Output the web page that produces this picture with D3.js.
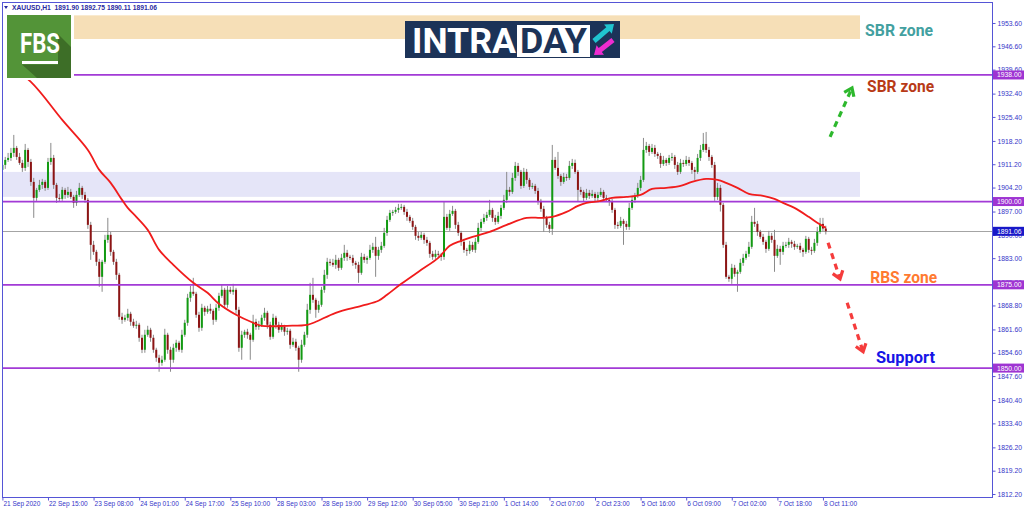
<!DOCTYPE html>
<html><head><meta charset="utf-8">
<script src="https://cdn.jsdelivr.net/npm/d3@7"></script>
<style>body{margin:0;background:#fff}svg{display:block}</style>
</head><body>
<svg id="c" width="1024" height="511"></svg>
<script>
// ---------------- DATA ----------------
const symbolInfo = "XAUUSD,H1  1891.90 1892.75 1890.11 1891.06";
const firstOpen = 1909.5;
const closes = [
1911.0,1912.5,1913.1,1914.6,1916.1,1913.4,1911.6,1910.1,1915.5,1911.9,
1905.9,1901.1,1903.5,1905.0,1905.9,1904.1,1911.9,1913.1,1905.0,1901.1,
1900.8,1903.5,1902.0,1902.9,1901.4,1899.6,1902.0,1904.1,1902.0,1900.5,
1893.0,1887.0,1884.9,1881.9,1877.4,1881.9,1888.5,1890.0,1884.9,1881.9,
1878.0,1865.4,1864.5,1865.1,1866.3,1863.9,1862.7,1863.0,1859.1,1855.5,
1860.0,1861.5,1859.1,1855.5,1853.1,1851.6,1852.5,1860.0,1855.5,1852.5,
1856.1,1857.6,1855.5,1860.0,1863.6,1871.1,1872.9,1872.3,1866.0,1862.1,
1868.1,1866.9,1867.8,1867.2,1864.5,1868.1,1871.7,1873.5,1869.0,1873.5,
1872.9,1873.5,1867.5,1856.1,1860.0,1860.9,1860.0,1858.5,1863.9,1862.4,
1863.0,1865.1,1866.6,1863.0,1859.4,1865.1,1863.0,1861.5,1862.4,1860.9,
1861.2,1857.0,1857.9,1856.1,1852.5,1857.0,1860.0,1867.5,1872.0,1870.5,
1867.5,1869.0,1873.5,1878.0,1881.9,1881.6,1881.0,1882.5,1880.1,1883.1,
1884.6,1883.4,1883.1,1881.6,1881.0,1878.6,1883.4,1882.5,1883.1,1885.5,
1886.4,1883.7,1885.5,1886.7,1890.6,1894.5,1896.6,1896.9,1897.5,1898.1,
1898.4,1896.9,1895.4,1894.2,1892.4,1889.7,1889.1,1890.0,1888.5,1887.6,
1884.3,1883.4,1884.3,1884.0,1883.4,1895.4,1892.1,1896.3,1897.2,1893.0,
1890.6,1887.9,1885.5,1885.2,1887.0,1885.5,1887.9,1892.1,1893.9,1895.1,
1896.0,1897.5,1895.1,1893.9,1895.7,1898.1,1900.5,1903.5,1902.9,1907.1,
1910.7,1908.9,1904.7,1908.9,1906.5,1904.4,1904.7,1903.2,1900.2,1897.8,
1895.1,1893.0,1891.8,1912.5,1910.1,1907.7,1905.9,1907.4,1907.1,1910.7,
1911.6,1908.9,1903.5,1902.9,1901.1,1902.6,1901.7,1902.3,1901.1,1902.0,
1902.9,1901.1,1900.5,1899.9,1897.5,1893.0,1892.7,1894.2,1893.3,1892.4,
1898.1,1900.5,1901.7,1904.1,1906.5,1915.5,1916.7,1914.9,1916.1,1914.3,
1913.7,1911.3,1912.5,1911.6,1913.1,1913.4,1911.0,1908.9,1911.6,1911.3,
1912.5,1911.6,1909.5,1908.9,1913.1,1915.5,1917.3,1915.5,1913.4,1911.0,
1901.4,1904.1,1899.0,1887.0,1877.4,1876.8,1880.1,1878.3,1878.9,1881.6,
1883.1,1884.3,1886.4,1893.9,1893.3,1890.9,1889.4,1887.9,1885.8,1889.7,
1888.5,1883.7,1885.8,1884.9,1886.7,1887.0,1887.9,1887.3,1886.4,1886.7,
1885.5,1884.9,1888.8,1885.5,1885.2,1887.6,1890.9,1893.3,1891.9,1891.06
];
const wickUp = [
1.2,0.9,1.5,1.5,3.9,0.6,1.2,0.9,1.8,0.6, 0.9,1.2,0.6,1.5,0.9,0.6,1.2,4.5,0.9,0.6,
1.2,0.9,0.6,1.5,0.9,0.6,1.2,1.5,0.6,0.9, 0.6,0.9,1.2,0.6,0.9,0.6,1.5,5.1,0.9,0.6,
0.9,0.6,1.2,0.9,1.5,0.6,0.9,1.2,0.6,0.9, 1.5,1.2,0.6,0.9,0.6,0.9,1.2,1.8,0.6,0.9,
1.2,0.9,0.6,1.5,0.9,1.2,1.8,4.2,0.6,0.9, 1.2,0.6,0.9,1.5,0.6,1.2,0.9,1.5,0.6,1.2,
0.9,1.8,0.6,0.9,1.2,0.6,0.9,0.6,2.1,0.9, 1.2,0.9,1.5,0.6,0.9,1.2,0.6,0.9,1.2,0.6,
0.9,0.6,1.2,0.9,0.6,1.5,0.9,1.8,3.6,5.1, 0.6,1.2,0.9,1.5,1.2,0.9,1.2,1.5,0.6,1.2,
2.4,0.9,0.6,0.9,0.6,0.9,1.2,0.9,0.6,1.5, 1.2,3.0,0.9,1.2,1.5,1.2,0.9,0.6,0.9,1.2,
0.9,0.6,0.9,0.6,0.9,0.6,1.2,0.9,0.6,0.9, 0.6,0.9,1.2,0.9,0.6,4.5,0.9,1.2,1.5,0.6,
0.9,0.6,0.9,0.6,1.2,0.9,1.2,1.5,0.9,1.2, 0.9,3.0,0.6,0.9,1.2,0.9,1.5,5.4,0.9,1.5,
1.2,0.9,0.6,1.2,0.9,0.6,0.9,0.6,0.9,0.6, 0.9,0.6,0.9,4.5,0.9,4.8,0.6,1.2,0.9,1.5,
1.2,1.0,0.6,0.9,0.6,1.2,0.9,1.2,0.6,0.9, 1.2,0.6,0.9,0.6,0.9,0.6,0.9,1.2,0.6,0.9,
1.5,1.2,0.9,1.5,1.2,3.6,1.2,0.6,1.2,0.9, 0.6,0.9,1.2,0.6,0.9,1.2,0.6,0.9,1.2,0.9,
1.2,0.9,0.6,0.9,1.2,1.5,3.3,3.6,0.9,0.6, 0.9,1.5,0.9,0.6,0.9,0.6,1.2,0.9,0.6,1.2,
1.2,0.9,1.5,1.8,4.2,0.9,0.6,0.9,0.6,1.5, 0.9,3.0,1.2,0.9,1.2,0.9,1.2,0.6,0.9,0.6,
0.9,0.6,0.9,0.6,0.9,1.2,1.5,1.8,1.8,0.85
];
const wickDown = [
0.9,1.2,0.6,0.9,1.2,0.9,0.6,1.2,0.9,1.5, 1.2,6.0,0.9,0.6,1.2,0.9,0.6,0.9,1.2,1.5,
0.9,0.6,1.2,0.9,0.6,1.5,0.9,0.6,1.2,0.9, 1.2,4.5,0.9,1.2,3.0,4.5,0.6,0.9,1.2,0.9,
1.5,0.9,1.2,0.6,0.9,1.2,0.6,0.9,1.2,1.0, 0.9,0.6,1.2,0.9,1.2,2.7,0.9,0.6,1.2,3.6,
0.9,1.2,0.6,0.9,0.6,0.9,1.2,0.6,0.9,1.2, 0.9,1.2,0.6,0.9,1.5,0.6,0.9,0.6,1.2,0.9,
0.6,0.9,1.2,1.2,3.6,0.9,1.2,6.0,0.6,0.9, 0.9,0.6,0.9,1.2,0.9,0.6,1.2,0.9,0.6,1.2,
0.9,1.2,0.6,0.9,3.6,0.9,0.6,0.9,1.2,0.9, 2.4,0.9,0.6,0.9,1.2,0.9,0.6,1.2,0.9,0.6,
0.9,1.2,0.6,0.9,1.2,3.0,0.6,0.9,1.2,0.6, 0.9,6.3,1.2,0.9,0.6,0.9,0.6,0.9,0.6,0.9,
0.6,0.9,1.2,0.6,0.9,1.2,0.9,0.6,1.2,0.9, 1.2,0.9,0.6,0.9,1.2,0.9,0.6,0.9,0.6,1.2,
0.9,1.2,0.9,1.5,0.9,0.6,0.9,0.6,0.9,0.6, 0.9,0.6,1.2,0.9,0.6,0.9,0.6,0.9,1.2,0.6,
0.9,1.2,0.9,0.6,1.2,0.9,0.6,0.9,1.2,0.9, 4.2,0.9,1.2,1.8,0.6,0.9,1.2,0.6,0.9,0.6,
0.9,0.6,3.6,0.9,1.2,0.6,0.9,0.6,1.2,0.9, 0.6,0.9,0.6,1.2,0.9,1.2,0.9,0.6,6.3,0.9,
0.9,0.6,0.9,0.6,0.9,0.6,0.9,1.2,0.6,0.9, 0.9,1.2,0.6,0.9,0.6,0.9,1.2,0.9,0.6,0.9,
0.6,0.9,1.2,2.4,0.6,0.9,0.6,0.9,1.2,0.9, 1.2,0.9,2.0,0.9,0.6,0.9,1.5,0.9,5.4,0.6,
0.9,0.6,0.9,0.6,0.9,1.2,0.6,0.9,1.2,0.6, 0.9,4.8,0.6,3.9,0.9,0.6,0.9,1.2,0.9,0.6,
0.9,1.5,0.6,0.9,1.2,0.6,0.9,0.6,0.9,0.95
];
// moving average (read at sampled bars)
const maBars = [0,10,21,30,34,38,42,44,47,51,55,60,67,72,76,82,88,91,100,107,110,117,126,132,135,140,147,153,157,161,165,171,177,184,189,193,198,202,205,210,214,219,224,228,233,238,242,247,251,254,258,262,267,271,274,278,283,286,289];
const maValues = [1942.5,1935.9,1924.5,1915.5,1909.5,1905.6,1900.5,1898.1,1895.4,1891.5,1885.5,1881.0,1875.6,1872.6,1869.3,1866.0,1863.6,1862.7,1862.7,1863.0,1863.9,1866.6,1868.7,1870.2,1872.0,1875.3,1879.5,1883.1,1886.7,1888.2,1889.4,1890.9,1893.0,1895.1,1895.1,1895.4,1896.9,1898.7,1899.6,1900.2,1901.1,1901.4,1902.0,1903.8,1904.1,1904.7,1905.9,1906.8,1906.5,1905.6,1904.1,1902.3,1901.7,1900.8,1899.6,1898.1,1895.4,1893.6,1892.1];
const xTickBars = [0,16,32,48,64,80,96,112,128,144,160,176,192,208,224,240,256,272,288];
const xTickLabels = ["21 Sep 2020","22 Sep 15:00","23 Sep 08:00","24 Sep 01:00","24 Sep 17:00","25 Sep 10:00","28 Sep 03:00","28 Sep 19:00","29 Sep 12:00","30 Sep 05:00","30 Sep 21:00","1 Oct 14:00","2 Oct 07:00","2 Oct 23:00","5 Oct 16:00","6 Oct 09:00","7 Oct 02:00","7 Oct 18:00","8 Oct 11:00"];
const yTicks = [1953.60,1946.60,1939.60,1932.40,1925.40,1918.20,1911.20,1904.20,1897.00,1890.00,1883.00,1875.80,1868.80,1861.60,1854.60,1847.60,1840.40,1833.40,1826.20,1819.20,1812.20];
const levels = [1938.00,1900.00,1875.00,1850.00];
const bidPrice = 1891.06;
const zoneLow = [1948.8, 1901.4];
const zoneHigh = [1955.9, 1908.9];
const zoneColors = ["#f6dfb7", "#e5e5f8"];
const noteTexts = ["SBR zone","SBR zone","RBS zone","Support"];
const noteBars = [302.8, 303.5, 304.6, 306.6];
const notePrices = [1949.7, 1933.0, 1875.6, 1851.6];
const noteColors = ["#43a0a0","#b83a17","#ff7a30","#1515e6"];
const arrowFrom = [[290.5,1919.4],[289.8,1887.6],[296.5,1869.6]];
const arrowTo = [[298.2,1934.1],[294.0,1876.8],[302.1,1854.9]];
const arrowColors = ["#2db82d","#f53c3c","#f53c3c"];

// ---------------- DRAW ----------------
const svg = d3.select("#c");
const P = {l:2, r:992, t:2, b:497};
const x = d3.scaleLinear().domain([0, closes.length-1]).range([2.4, 825.8]);
const y = d3.scaleLinear().domain([1812.2, 1953.6]).range([494, 23]);
const axisColor = "#5555d6", textColor = "#3434c8";
const smallFont = "'Liberation Sans', Arial, sans-serif";

svg.append("rect").attr("width",1024).attr("height",511).attr("fill","#fff");
svg.append("defs").append("clipPath").attr("id","pc").append("rect")
  .attr("x",P.l).attr("y",P.t).attr("width",P.r-P.l).attr("height",P.b-P.t);
const g = svg.append("g").attr("clip-path","url(#pc)");

// zones
const zoneRight = x(301);
g.selectAll(".zone").data(zoneLow).enter().append("rect")
  .attr("x", P.l).attr("width", zoneRight-P.l)
  .attr("y", (d,i)=>y(zoneHigh[i])).attr("height",(d,i)=>y(zoneLow[i])-y(zoneHigh[i]))
  .attr("fill",(d,i)=>zoneColors[i]);

// bid line
g.append("line").attr("x1",P.l).attr("x2",P.r).attr("y1",Math.round(y(bidPrice))+0.5).attr("y2",Math.round(y(bidPrice))+0.5)
  .attr("stroke","#a4a4a4").attr("stroke-width",1);

// candles
const bars = closes.map((c,i)=>{const o = i? closes[i-1] : firstOpen;
  return {i,o,c,h:Math.max(o,c)+wickUp[i], l:Math.min(o,c)-wickDown[i]};});
const cg = g.append("g");
cg.selectAll(".wick").data(bars).enter().append("line")
  .attr("x1",d=>x(d.i)).attr("x2",d=>x(d.i)).attr("y1",d=>y(d.h)).attr("y2",d=>y(d.l))
  .attr("stroke","#8a8a8a").attr("stroke-width",1);
cg.selectAll(".body").data(bars).enter().append("rect")
  .attr("x",d=>x(d.i)-1).attr("width",2)
  .attr("y",d=>y(Math.max(d.o,d.c)))
  .attr("height",d=>Math.max(1, Math.abs(y(d.o)-y(d.c))))
  .attr("fill",d=>d.c>=d.o?"#129a12":"#8c1414");

// levels
g.selectAll(".lvl").data(levels).enter().append("line")
  .attr("x1",P.l).attr("x2",P.r).attr("y1",d=>y(d)).attr("y2",d=>y(d))
  .attr("stroke","#a23ad6").attr("stroke-width",1.7);

// MA
const ma = d3.line().x((d,i)=>x(maBars[i])).y(d=>y(d)).curve(d3.curveCatmullRom.alpha(0.5));
g.append("path").attr("d", ma(maValues)).attr("fill","none").attr("stroke","#f01c1c").attr("stroke-width",1.8);

// frame
svg.append("rect").attr("x",P.l+0.5).attr("y",P.t+0.5).attr("width",P.r-P.l).attr("height",P.b-P.t)
  .attr("fill","none").attr("stroke",axisColor).attr("stroke-width",1);

// axes
const yAxis = d3.axisRight(y).tickValues(yTicks).tickFormat(d3.format(".2f")).tickSize(3).tickPadding(2);
const ya = svg.append("g").attr("transform",`translate(${P.r+0.5},0)`).call(yAxis);
ya.select(".domain").remove();
ya.selectAll("line").attr("stroke",axisColor);
ya.selectAll("text").attr("fill",textColor).style("font-family",smallFont).style("font-size","6.8px");

const xAxis = d3.axisBottom(x).tickValues(xTickBars).tickFormat((d,k)=>xTickLabels[k]).tickSize(3).tickPadding(1);
const xa = svg.append("g").attr("transform",`translate(0,${P.b+0.5})`).call(xAxis);
xa.select(".domain").remove();
xa.selectAll("line").attr("stroke",axisColor);
xa.selectAll("text").attr("fill",textColor).attr("text-anchor","start").attr("dx","0.5")
  .style("font-family",smallFont).style("font-size","6.5px");

// highlighted price labels
const hl = svg.append("g");
const allHl = levels.map(v=>({v,c:"#9e34d2"})).concat([{v:bidPrice,c:"#1818c8"}]);
hl.selectAll("rect").data(allHl).enter().append("rect")
  .attr("x",P.r+1).attr("width",31).attr("y",d=>y(d.v)-4.5).attr("height",9).attr("fill",d=>d.c);
hl.selectAll("text").data(allHl).enter().append("text")
  .attr("x",P.r+5).attr("y",d=>y(d.v)+2.5).text(d=>d.v.toFixed(2))
  .attr("fill","#fff").style("font-family",smallFont).style("font-size","6.8px");

// title
svg.append("path").attr("d","M4,6 L8,6 L6,9 Z").attr("fill","#2a2aa0");
svg.append("text").attr("x",12).attr("y",10).text(symbolInfo)
  .attr("fill","#2a2aa0").attr("textLength",145).attr("lengthAdjust","spacingAndGlyphs")
  .style("font-family",smallFont).style("font-size","7px").style("font-weight","bold").attr("xml:space","preserve");

// FBS logo
const fbs = svg.append("g");
fbs.append("rect").attr("x",3).attr("y",11).attr("width",71).attr("height",69).attr("fill","#fff");
fbs.append("rect").attr("x",7).attr("y",15).attr("width",64).attr("height",63).attr("fill","#539438");
fbs.append("path").attr("d","M58,34 L71,47 L71,78 L37,78 L22,64.5 L58,64.5 Z").attr("fill","#3d6e27");
fbs.append("text").attr("x",20).attr("y",53).text("FBS").attr("fill","#fff")
  .attr("textLength",40).attr("lengthAdjust","spacingAndGlyphs")
  .style("font-family","Roboto, 'Open Sans', sans-serif").style("font-weight","bold").style("font-size","27px");
fbs.append("rect").attr("x",22).attr("y",61).attr("width",36).attr("height",3).attr("fill","#fff");

// INTRADAY logo
const it = svg.append("g");
it.append("rect").attr("x",405).attr("y",21).attr("width",215).attr("height",37).attr("fill","#1c3358");
it.append("text").attr("x",412).attr("y",53).text("INTRA").attr("fill","#fff")
  .attr("textLength",104).attr("lengthAdjust","spacingAndGlyphs")
  .style("font-family","Roboto, 'Open Sans', sans-serif").style("font-weight","bold").style("font-size","35px");
it.append("rect").attr("x",517).attr("y",25).attr("width",73).attr("height",32).attr("fill","#fff");
it.append("text").attr("x",520).attr("y",53).text("DAY").attr("fill","#1c3358")
  .attr("textLength",67).attr("lengthAdjust","spacingAndGlyphs")
  .style("font-family","Roboto, 'Open Sans', sans-serif").style("font-weight","bold").style("font-size","35px");
function arrowPoly(x0,y0,x1,y1,sw,hw,hl){
  const dx=x1-x0, dy=y1-y0, L=Math.hypot(dx,dy), ux=dx/L, uy=dy/L, px=-uy, py=ux;
  const bx=x1-ux*hl, by=y1-uy*hl;
  const pts=[[x0+px*sw/2,y0+py*sw/2],[bx+px*sw/2,by+py*sw/2],[bx+px*hw/2,by+py*hw/2],[x1,y1],
    [bx-px*hw/2,by-py*hw/2],[bx-px*sw/2,by-py*sw/2],[x0-px*sw/2,y0-py*sw/2]];
  return "M"+pts.map(p=>p.join(",")).join("L")+"Z";
}
it.append("path").attr("d",arrowPoly(594,41,614,24,5,12,8)).attr("fill","#20c4cf");
it.append("path").attr("d",arrowPoly(613,40,594,55,5,12,8)).attr("fill","#ee2cd0");

// annotations
const ag = svg.append("g");
arrowFrom.forEach((f,k)=>{
  const x0=x(f[0]), y0=y(f[1]), x1=x(arrowTo[k][0]), y1=y(arrowTo[k][1]);
  const dx=x1-x0, dy=y1-y0, L=Math.hypot(dx,dy), ux=dx/L, uy=dy/L;
  ag.append("line").attr("x1",x0).attr("y1",y0).attr("x2",x1-ux*2).attr("y2",y1-uy*2)
    .attr("stroke",arrowColors[k]).attr("stroke-width",3.2).attr("stroke-dasharray","6,5");
  const a=Math.PI*0.2, hl=9;
  const w1=[x1-hl*(ux*Math.cos(a)-uy*Math.sin(a)), y1-hl*(uy*Math.cos(a)+ux*Math.sin(a))];
  const w2=[x1-hl*(ux*Math.cos(-a)-uy*Math.sin(-a)), y1-hl*(uy*Math.cos(-a)+ux*Math.sin(-a))];
  ag.append("path").attr("d",`M${w1[0]},${w1[1]}L${x1},${y1}L${w2[0]},${w2[1]}`)
    .attr("fill","none").attr("stroke",arrowColors[k]).attr("stroke-width",3.2);
});
const noteWidths = [68,67,67,59];
ag.selectAll(".note").data(noteTexts).enter().append("text")
  .attr("x",(d,i)=>x(noteBars[i])).attr("y",(d,i)=>y(notePrices[i]))
  .text(d=>d).attr("fill",(d,i)=>noteColors[i])
  .attr("textLength",(d,i)=>noteWidths[i]).attr("lengthAdjust","spacingAndGlyphs")
  .style("font-family","Roboto, 'Open Sans', sans-serif").style("font-weight","bold").style("font-size","17px");
</script>
</body></html>
